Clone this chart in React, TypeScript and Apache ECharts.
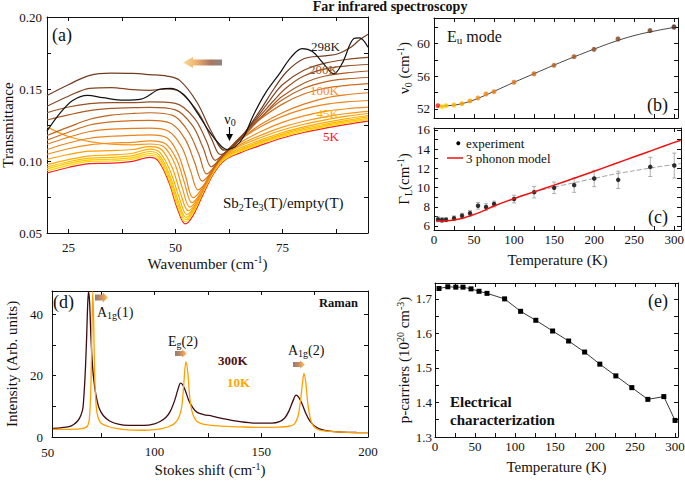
import React, { useEffect, useRef } from 'react';
import * as echarts from 'echarts';

const FONT = '"Liberation Serif", "Times New Roman", Times, serif';
const INK = '#111';

// ---------------- Panel (a): far-infrared transmittance ----------------
const firTemps = ['5K', '10K', '15K', '25K', '35K', '45K', '55K', '65K', '75K', '100K', '125K', '150K', '175K', '200K', '230K', '270K', '298K'];
const firColors = ['#ff1f1f', '#ffd800', '#ffc800', '#ffb900', '#ffab00', '#ff9f00', '#f99514', '#f28c14', '#ec8418', '#e47c1a', '#cf6e1c', '#bd641f', '#aa5a22', '#985024', '#864622', '#733c1f', '#111111'];
const fir5K = [[20, .0917], [25, .0955], [30, .0982], [35, .0985], [40, .0998], [44, .1025], [46, .1000], [48.5, .0850], [50.5, .0665], [52.3, .0563], [54, .0615], [56.5, .0770], [59, .0915], [61.5, .1005], [65, .1055], [70, .1110], [75, .1160], [80, .1198], [85, .1228], [90, .1254], [95, .1277]];
const fir10K = [[20, .0932], [25, .0970], [30, .0997], [35, .1000], [40, .1012], [44, .1040], [46, .1015], [48.5, .0868], [50.5, .0685], [52.3, .0578], [54, .0632], [56.5, .0785], [59, .0925], [61.5, .1012], [65, .1064], [70, .1120], [75, .1170], [80, .1208], [85, .1238], [90, .1264], [95, .1288]];
const fir15K = [[20, .0945], [25, .0983], [30, .1008], [35, .1012], [40, .1024], [44, .1052], [46.1, .1028], [48.6, .0884], [50.6, .0702], [52.4, .0593], [54.1, .0646], [56.6, .0797], [59.1, .0935], [61.5, .1018], [65, .1071], [70, .1128], [75, .1178], [80, .1217], [85, .1247], [90, .1273], [95, .1297]];
const fir25K = [[20, .0958], [25, .0995], [30, .1020], [35, .1025], [40, .1037], [44, .1066], [46.2, .1042], [48.7, .0900], [50.7, .0720], [52.5, .0608], [54.2, .0660], [56.7, .0808], [59.2, .0945], [61.5, .1024], [65, .1078], [70, .1136], [75, .1187], [80, .1226], [85, .1256], [90, .1282], [95, .1306]];
const fir35K = [[20, .0975], [25, .1010], [30, .1036], [35, .1042], [40, .1054], [44, .1082], [46.4, .1058], [48.9, .0922], [50.9, .0745], [52.65, .0628], [54.4, .0680], [56.9, .0825], [59.4, .0958], [61.6, .1032], [65, .1088], [70, .1147], [75, .1198], [80, .1237], [85, .1268], [90, .1294], [95, .1316]];
const fir45K = [[20, .1012], [25, .1045], [30, .1068], [35, .1072], [40, .1080], [44, .1100], [46.8, .1078], [49.3, .0950], [51.2, .0775], [53.0, .0655], [54.8, .0705], [57.3, .0845], [59.7, .0972], [61.7, .1040], [65, .1102], [70, .1163], [75, .1215], [80, .1255], [85, .1286], [90, .1311], [95, .1330]];
const fir55K = [[20, .1237], [25, .1170], [30, .1135], [35, .1117], [40, .1112], [44, .1118], [47.2, .1100], [49.8, .0985], [51.6, .0815], [53.35, .0680], [55.2, .0735], [57.7, .0872], [60, .0992], [62, .1052], [65, .1112], [70, .1180], [75, .1235], [80, .1276], [85, .1307], [90, .1330], [95, .1345]];
const fir65K = [[20, .1047], [25, .1085], [30, .1112], [35, .1125], [40, .1130], [44, .1140], [47.6, .1122], [50.3, .1010], [52.1, .0850], [53.85, .0710], [55.7, .0768], [58.2, .0905], [60.4, .1010], [62.3, .1065], [65, .1125], [70, .1205], [75, .1268], [80, .1313], [85, .1344], [90, .1363], [95, .1374]];
const fir75K = [[20, .1080], [25, .1125], [30, .1158], [35, .1172], [40, .1178], [44, .1182], [48, .1162], [50.6, .1050], [52.4, .0892], [54.1, .0745], [56, .0800], [58.5, .0935], [60.6, .1030], [62.4, .1078], [65, .1145], [70, .1240], [75, .1310], [80, .1360], [85, .1393], [90, .1410], [95, .1420]];
const fir100K = [[20, .1116], [25, .1165], [30, .1205], [35, .1222], [40, .1226], [44, .1228], [48.5, .1205], [51.5, .1095], [53.5, .0935], [55.3, .0800], [57.2, .0855], [59.5, .0975], [61.3, .1048], [63, .1098], [66, .1170], [70, .1255], [75, .1335], [80, .1395], [85, .1437], [90, .1460], [95, .1474]];
const fir125K = [[20, .1145], [25, .1200], [30, .1250], [35, .1272], [40, .1280], [44, .1282], [49, .1260], [52.3, .1150], [54.5, .0990], [56.3, .0860], [58.1, .0910], [60.2, .1005], [62, .1068], [64, .1125], [67, .1215], [70, .1295], [75, .1395], [80, .1465], [85, .1505], [90, .1525], [95, .1537]];
const fir150K = [[20, .1177], [25, .1235], [30, .1290], [35, .1318], [40, .1330], [44, .1335], [49.5, .1315], [53, .1205], [55.5, .1045], [57.3, .0910], [59, .0955], [61, .1035], [63, .1095], [65, .1150], [68, .1245], [71, .1330], [75, .1425], [80, .1505], [85, .1550], [90, .1570], [95, .1580]];
const fir175K = [[20, .1285], [25, .1320], [30, .1350], [35, .1365], [40, .1370], [44, .1372], [50, .1355], [54, .1245], [56.5, .1090], [58.4, .0960], [60, .0998], [62, .1062], [64, .1120], [66, .1175], [69, .1270], [72, .1365], [75, .1450], [80, .1540], [85, .1590], [90, .1612], [95, .1625]];
const fir200K = [[20, .1335], [25, .1375], [30, .1398], [35, .1405], [40, .1405], [44, .1410], [50, .1400], [54.5, .1295], [57.3, .1135], [59.3, .1005], [61, .1042], [63, .1102], [65, .1162], [67, .1220], [70, .1320], [73, .1420], [76, .1510], [80, .1590], [85, .1640], [90, .1660], [95, .1670]];
const fir230K = [[20, .1380], [25, .1450], [30, .1505], [35, .1510], [40, .1495], [44, .1490], [48, .1500], [51, .1480], [55.5, .1330], [58.5, .1150], [60.5, .1045], [62.3, .1072], [64, .1128], [66, .1190], [69, .1300], [72, .1420], [75, .1530], [80, .1630], [85, .1680], [90, .1705], [95, .1719]];
const fir270K = [[20, .1455], [25, .1530], [30, .1595], [35, .1610], [40, .1608], [44, .1600], [48, .1590], [51, .1560], [55, .1410], [58.5, .1200], [61.5, .1075], [63.3, .1097], [65, .1150], [67, .1230], [70, .1360], [73, .1500], [76, .1620], [80, .1710], [85, .1730], [88, .1745], [91, .1790], [93, .1840], [95, .1880]];
const fir298K = [[20, .1207], [23, .1330], [26, .1420], [29.5, .1456], [33, .1440], [38, .1423], [42, .1430], [46.5, .1500], [49, .1505], [52, .1460], [55, .1340], [58, .1200], [60.5, .1110], [62.1, .1080], [64, .1100], [66, .1170], [68.3, .1323], [71, .1470], [74.5, .1614], [77, .1720], [79.6, .1780], [82, .1760], [84.5, .1680], [87, .1605], [89, .1680], [91.7, .1850], [93, .1855], [95, .1790]];
const firCurves = [fir5K, fir10K, fir15K, fir25K, fir35K, fir45K, fir55K, fir65K, fir75K, fir100K, fir125K, fir150K, fir175K, fir200K, fir230K, fir270K, fir298K];
const firXTicks = [25, 37.5, 50, 62.5, 75, 87.5];
const firXLabels = [25, 50, 75];
const firYTicks = [0.05, 0.075, 0.1, 0.125, 0.15, 0.175, 0.2];
const firYLabels = [0.05, 0.1, 0.15, 0.2];

// ---------------- Panel (b): Eu mode frequency ----------------
const fitTemps = [5, 10, 15, 25, 35, 45, 55, 65, 75, 100, 125, 150, 175, 200, 230, 270, 300];
const nu0 = [52.40, 52.28, 52.40, 52.49, 52.65, 52.98, 53.34, 53.83, 54.11, 55.26, 56.30, 57.33, 58.38, 59.28, 60.54, 61.55, 62.0];
const nu0Err = [0.1, 0.1, 0.1, 0.1, 0.1, 0.1, 0.1, 0.12, 0.12, 0.15, 0.15, 0.15, 0.18, 0.2, 0.2, 0.22, 0.25];
const nu0Colors = ['#ff1f1f', '#ffd800', '#ffc800', '#ffb900', '#ffab00', '#ff9f00', '#f99514', '#f28c14', '#ec8418', '#e47c1a', '#cf6e1c', '#bd641f', '#aa5a22', '#985024', '#864622', '#733c1f', '#4a2416'];
const nu0FitT = [5, 10, 20, 30, 40, 50, 60, 75, 100, 125, 150, 175, 200, 225, 250, 275, 300];
const nu0Fit = [52.35, 52.36, 52.42, 52.55, 52.78, 53.1, 53.5, 54.15, 55.25, 56.3, 57.35, 58.35, 59.3, 60.2, 60.95, 61.5, 61.95];
const tTicks = [0, 25, 50, 75, 100, 125, 150, 175, 200, 225, 250, 275, 300];
const tLabels = [0, 50, 100, 150, 200, 250, 300];
const nuYTicks = [52, 54, 56, 58, 60, 62];
const nuYLabels = [52, 56, 60];

// ---------------- Panel (c): linewidth ----------------
const gammaL = [6.69, 6.62, 6.65, 6.80, 7.07, 7.32, 8.10, 7.97, 8.28, 8.80, 9.52, 9.97, 10.25, 10.94, 10.80, 12.15, 12.29];
const gammaErr = [0.25, 0.25, 0.2, 0.25, 0.25, 0.3, 0.35, 0.35, 0.3, 0.4, 0.6, 0.6, 0.75, 0.85, 0.9, 1.0, 1.3];
const modelT = [3, 10, 20, 30, 40, 50, 60, 75, 100, 125, 150, 175, 200, 225, 250, 275, 300, 308];
const modelG = [6.52, 6.53, 6.57, 6.7, 6.92, 7.2, 7.52, 8.08, 8.85, 9.55, 10.25, 10.97, 11.7, 12.45, 13.2, 13.95, 14.7, 14.93];
const trendT = [100, 125, 150, 175, 200, 225, 250, 275, 300, 308];
const trendG = [8.85, 9.55, 10.05, 10.5, 10.95, 11.4, 11.75, 12.1, 12.4, 12.5];
const gYTicks = [6, 7, 8, 9, 10, 11, 12, 13, 14, 15, 16];
const gYLabels = [6, 8, 10, 12, 14, 16];

// ---------------- Panel (d): Raman ----------------
const raman300Shift = [52.5, 56, 60, 62, 64, 65.5, 66.5, 67.5, 68.2, 68.7, 69.1, 69.6, 70.2, 70.8, 71.5, 72.5, 74, 76, 79, 83, 88, 95, 100, 103, 105.5, 107.5, 109.5, 111, 112.2, 113.2, 114.5, 116, 118, 120, 123, 127, 132, 140, 148, 155, 158.5, 161, 163, 165, 166.3, 167.5, 169, 171, 173, 175, 178, 182, 188, 195, 200];
const raman300Int = [2.8, 3.0, 3.4, 4.0, 5.2, 7.0, 9.5, 20, 32, 43, 47.4, 44, 33, 25, 19, 14, 9.5, 7, 5.2, 4.2, 3.8, 3.8, 4.3, 5.2, 6.5, 8.5, 12, 15.5, 17.5, 17, 15, 12, 9.5, 8, 7.3, 6.8, 6.0, 5.0, 4.5, 4.5, 5.0, 6.2, 8.5, 12, 13.6, 13, 11, 7.5, 5, 3.6, 2.5, 1.9, 1.6, 1.45, 1.4];
const raman10Shift = [52.5, 60, 66, 68.5, 69.5, 70.2, 70.7, 71.1, 71.5, 72, 72.7, 73.5, 75, 78, 82, 88, 95, 100, 104, 107, 109.5, 111.5, 112.8, 113.7, 114.7, 115.6, 116.5, 117.5, 119, 121, 124, 130, 140, 150, 158, 163, 165.5, 167.3, 168.5, 169.3, 170, 170.8, 171.8, 173, 174.5, 177, 182, 190, 200];
const raman10Int = [2.5, 2.5, 2.7, 3.5, 6, 16, 35, 47.4, 38, 20, 10, 6.5, 4.5, 3.5, 2.8, 2.3, 2.2, 2.4, 2.8, 3.5, 4.5, 6.5, 10, 17, 24.5, 21, 13, 8.5, 5.8, 4.6, 4.0, 3.6, 3.3, 3.1, 3.2, 3.5, 4.2, 7, 12.5, 17.5, 20.7, 18, 11, 6, 3.5, 2.3, 1.8, 1.5, 1.4];
const ramanXTicks = [75, 100, 125, 150, 175, 200];
const ramanXLabels = [100, 150, 200];
const ramanYTicks = [0, 10, 20, 30, 40];
const ramanYLabels = [0, 20, 40];

// ---------------- Panel (e): carriers ----------------
const carrierT = [5, 16, 26, 35, 45, 55, 65, 87, 107, 126, 147, 167, 187, 206, 226, 246, 266, 286, 300];
const carriers = [1.730, 1.735, 1.734, 1.734, 1.729, 1.722, 1.716, 1.700, 1.664, 1.638, 1.607, 1.578, 1.546, 1.511, 1.477, 1.443, 1.409, 1.417, 1.348];
const pYTicks = [1.3, 1.35, 1.4, 1.45, 1.5, 1.55, 1.6, 1.65, 1.7];
const pYLabels = [1.3, 1.4, 1.5, 1.6, 1.7];

// ---------------- helpers ----------------
const tickLabel = { fontFamily: FONT, fontSize: 13, color: INK };
const richBase = {
  n: { fontFamily: FONT, fontSize: 15, color: INK, lineHeight: 18 },
  s: { fontFamily: FONT, fontSize: 10, color: INK, lineHeight: 8, verticalAlign: 'bottom' },
  p: { fontFamily: FONT, fontSize: 10, color: INK, lineHeight: 8, verticalAlign: 'top' },
};

function xAxes(grid: number, min: number, max: number, ticks: number[], labels: number[], o: any) {
  const base: any = {
    type: 'value', gridIndex: grid, min, max, splitLine: { show: false },
    axisLine: { show: true, onZero: false, lineStyle: { color: INK, width: 1 } },
    axisTick: { show: true, inside: true, length: 4, customValues: ticks, lineStyle: { color: INK } },
  };
  return [
    {
      ...base, position: 'bottom',
      axisLabel: labels.length ? { show: true, customValues: labels, margin: o.margin, ...tickLabel, formatter: o.fmt } : { show: false },
      name: o.name || '', nameLocation: 'middle', nameGap: o.gap || 20,
      nameTextStyle: { fontFamily: FONT, fontSize: 15, color: INK, rich: richBase },
    },
    { ...base, position: 'top', axisLabel: { show: false } },
  ];
}
function yAxes(grid: number, min: number, max: number, ticks: number[], labels: number[], o: any) {
  const base: any = {
    type: 'value', gridIndex: grid, min, max, splitLine: { show: false },
    axisLine: { show: true, onZero: false, lineStyle: { color: INK, width: 1 } },
    axisTick: { show: true, inside: true, length: 4, customValues: ticks, lineStyle: { color: INK } },
  };
  return [
    {
      ...base, position: 'left',
      axisLabel: { show: true, customValues: labels, margin: o.margin, ...tickLabel, formatter: o.fmt },
      name: o.name, nameLocation: 'middle', nameGap: o.gap, nameRotate: 90,
      nameTextStyle: { fontFamily: FONT, fontSize: 15, color: INK, rich: richBase },
    },
    { ...base, position: 'right', axisLabel: { show: false } },
  ];
}

const errorBars = (cap: number, color: string) => (params: any, api: any) => {
  const x = api.value(0), y = api.value(1), e = api.value(2);
  const a = api.coord([x, y + e]);
  const b = api.coord([x, y - e]);
  const style = { stroke: color, lineWidth: 0.8 };
  return {
    type: 'group', children: [
      { type: 'line', shape: { x1: a[0], y1: a[1], x2: b[0], y2: b[1] }, style },
      { type: 'line', shape: { x1: a[0] - cap, y1: a[1], x2: a[0] + cap, y2: a[1] }, style },
      { type: 'line', shape: { x1: b[0] - cap, y1: b[1], x2: b[0] + cap, y2: b[1] }, style },
    ],
  };
};

function txt(x: number, y: number, text: string, size: number, o: any = {}) {
  const color = o.color || INK;
  return {
    type: 'text', x, y, z: 100, silent: true,
    style: {
      text, fontSize: size, fontFamily: FONT, fill: color, fontWeight: o.bold ? 'bold' : 'normal',
      align: o.align || 'left', verticalAlign: 'middle',
      rich: o.rich ? {
        n: { fontSize: size, fontFamily: FONT, fill: color, lineHeight: size + 3 },
        s: { fontSize: Math.round(size * 0.68), fontFamily: FONT, fill: color, lineHeight: 8, verticalAlign: 'bottom' },
      } : undefined,
    },
  };
}

function arrow(pts: number[][], stops: any[]) {
  return {
    type: 'polygon', z: 90, silent: true, shape: { points: pts },
    style: { fill: new echarts.graphic.LinearGradient(0, 0, 1, 0, stops) },
  };
}
const leftArrowStops = [
  { offset: 0, color: '#f7dc96' }, { offset: 0.35, color: '#eeb070' },
  { offset: 0.7, color: '#a87860' }, { offset: 1, color: '#8c8484' },
];
const rightArrowStops = [
  { offset: 0, color: '#8c7c7c' }, { offset: 0.45, color: '#c88a60' },
  { offset: 0.8, color: '#f2aa50' }, { offset: 1, color: '#f8d07a' },
];
function rArrow(x0: number, x1: number, cy: number, h: number) {
  const head = (x1 - x0) * 0.4;
  return arrow([[x0, cy - h * 0.3], [x1 - head, cy - h * 0.3], [x1 - head, cy - h * 0.5], [x1, cy], [x1 - head, cy + h * 0.5], [x1 - head, cy + h * 0.3], [x0, cy + h * 0.3]], rightArrowStops);
}

function buildOption() {
  const xAxis = [
    ...xAxes(0, 20, 95, firXTicks, firXLabels, { margin: 8, name: '{n|Wavenumber (cm}{p|-1}{n|)}', gap: 19 }),
    ...xAxes(1, 0, 305, tTicks, [], {}),
    ...xAxes(2, 0, 308.4, tTicks, tLabels, { margin: 3, name: 'Temperature (K)', gap: 22 }),
    ...xAxes(3, 52, 200, ramanXTicks, ramanXLabels, { margin: 8, name: '{n|Stokes shift (cm}{p|-1}{n|)}', gap: 24 }),
    ...xAxes(4, 0, 303.7, tTicks, tLabels, { margin: 3, name: 'Temperature (K)', gap: 22 }),
  ];
  const yAxis = [
    ...yAxes(0, 0.05, 0.2, firYTicks, firYLabels, { margin: 5, name: 'Transmittance', gap: 29, fmt: (v: number) => v.toFixed(2) }),
    ...yAxes(1, 50.9, 63.1, nuYTicks, nuYLabels, { margin: 4, name: '{n|ν}{s|0}{n| (cm}{p|-1}{n|)}', gap: 20 }),
    ...yAxes(2, 5.58, 16.2, gYTicks, gYLabels, { margin: 4, name: '{n|Γ}{s|L}{n|(cm}{p|-1}{n|)}', gap: 17 }),
    ...yAxes(3, 0, 47.5, ramanYTicks, ramanYLabels, { margin: 9, name: 'Intensity (Arb. units)', gap: 33 }),
    ...yAxes(4, 1.3, 1.746, pYTicks, pYLabels, { margin: 3, name: '{n|p-carriers (10}{p|20}{n| cm}{p|-3}{n|)}', gap: 19, fmt: (v: number) => v.toFixed(1) }),
  ];

  const series: any[] = [];
  firCurves.forEach((d, i) => {
    series.push({
      type: 'line', name: firTemps[i], xAxisIndex: 0, yAxisIndex: 0, data: d, smooth: 0.35,
      symbol: 'none', silent: true, lineStyle: { color: firColors[i], width: 1.2 }, z: 2,
    });
  });
  // (b)
  series.push({
    type: 'custom', xAxisIndex: 2, yAxisIndex: 2, renderItem: errorBars(1.5, '#aaa'), silent: true, z: 2,
    data: fitTemps.map((t, i) => [t, nu0[i], nu0Err[i]]), encode: { x: 0, y: 1 },
  });
  series.push({
    type: 'line', xAxisIndex: 2, yAxisIndex: 2, data: nu0FitT.map((t, i) => [t, nu0Fit[i]]), smooth: 0.4,
    symbol: 'none', silent: true, lineStyle: { color: '#333', width: 0.9 }, z: 3,
  });
  series.push({
    type: 'scatter', xAxisIndex: 2, yAxisIndex: 2, symbolSize: 5, silent: true, z: 4,
    data: fitTemps.map((t, i) => ({ value: [t, nu0[i]], itemStyle: { color: nu0Colors[i] } })),
  });
  // (c)
  series.push({
    type: 'line', xAxisIndex: 4, yAxisIndex: 4, data: trendT.map((t, i) => [t, trendG[i]]), smooth: 0.3,
    symbol: 'none', silent: true, lineStyle: { color: '#999', width: 0.9, type: [5, 2] }, z: 2,
  });
  series.push({
    type: 'custom', xAxisIndex: 4, yAxisIndex: 4, renderItem: errorBars(2, '#999'), silent: true, z: 2,
    data: fitTemps.map((t, i) => [t, gammaL[i], gammaErr[i]]), encode: { x: 0, y: 1 },
  });
  series.push({
    type: 'scatter', xAxisIndex: 4, yAxisIndex: 4, symbolSize: 4.5, silent: true, z: 3,
    itemStyle: { color: '#000' }, data: fitTemps.map((t, i) => [t, gammaL[i]]),
  });
  series.push({
    type: 'line', xAxisIndex: 4, yAxisIndex: 4, data: modelT.map((t, i) => [t, modelG[i]]), smooth: 0.4,
    symbol: 'none', silent: true, lineStyle: { color: '#f01010', width: 1.5 }, z: 4,
  });
  // (d)
  series.push({
    type: 'line', name: '300K', xAxisIndex: 6, yAxisIndex: 6, data: raman300Shift.map((w, i) => [w, raman300Int[i]]),
    smooth: 0.3, symbol: 'none', silent: true, lineStyle: { color: '#3e0c10', width: 1.3 }, z: 2,
  });
  series.push({
    type: 'line', name: '10K', xAxisIndex: 6, yAxisIndex: 6, data: raman10Shift.map((w, i) => [w, raman10Int[i]]),
    smooth: 0.3, symbol: 'none', silent: true, lineStyle: { color: '#ffa000', width: 1.3 }, z: 3,
  });
  // (e)
  series.push({
    type: 'line', xAxisIndex: 8, yAxisIndex: 8, data: carrierT.map((t, i) => [t, carriers[i]]),
    symbol: 'rect', symbolSize: 5, silent: true, itemStyle: { color: '#000' }, lineStyle: { color: '#222', width: 0.9 }, z: 3,
  });

  const sbRich = '{n|Sb}{s|2}{n|Te}{s|3}{n|(T)/empty(T)}';
  const graphic: any[] = [
    txt(390, 6, 'Far infrared spectroscopy', 14, { bold: true, align: 'center' }),
    // (a)
    txt(52, 34.5, '(a)', 18),
    txt(340, 46, '298K', 13, { align: 'right', color: '#222' }),
    txt(338, 69, '200K', 13, { align: 'right', color: '#9a5a30' }),
    txt(339, 90.5, '100K', 13, { align: 'right', color: '#ff8c1a' }),
    txt(339, 113, '45K', 13, { align: 'right', color: '#ffb000' }),
    txt(339, 136, '5K', 13, { align: 'right', color: '#ff1010' }),
    txt(230, 119, '{n|ν}{s|0}', 14, { align: 'center', rich: true }),
    { type: 'line', z: 100, silent: true, shape: { x1: 229.5, y1: 127, x2: 229.5, y2: 136 }, style: { stroke: '#000', lineWidth: 1.2 } },
    { type: 'polygon', z: 100, silent: true, shape: { points: [[226, 134], [233, 134], [229.5, 141]] }, style: { fill: '#000' } },
    txt(223, 203, sbRich, 15, { rich: true }),
    arrow([[183, 62.5], [193, 57], [193, 59.5], [222, 59.5], [222, 65.5], [193, 65.5], [193, 68]], leftArrowStops),
    // (b)
    txt(447, 36, '{n|E}{s|u}{n| mode}', 16, { rich: true }),
    txt(647, 104.5, '(b)', 18),
    // (c)
    txt(648, 216.5, '(c)', 18),
    { type: 'circle', z: 100, silent: true, shape: { cx: 458.3, cy: 143.3, r: 2 }, style: { fill: '#000' } },
    txt(466, 143.3, 'experiment', 13),
    { type: 'line', z: 100, silent: true, shape: { x1: 447, y1: 158, x2: 463, y2: 158 }, style: { stroke: '#f01010', lineWidth: 1.5 } },
    txt(466, 158, '3 phonon model', 13),
    // (d)
    txt(53, 301.5, '(d)', 18),
    txt(47.7, 452, '50', 13, { align: 'center' }),
    txt(358, 303, 'Raman', 12.5, { bold: true, align: 'right' }),
    txt(97, 312, '{n|A}{s|1g}{n|(1)}', 14, { rich: true }),
    txt(168, 341, '{n|E}{s|g}{n|(2)}', 14, { rich: true }),
    txt(288, 350, '{n|A}{s|1g}{n|(2)}', 14, { rich: true }),
    txt(218, 360, '300K', 13, { bold: true, color: '#4a1414' }),
    txt(227, 382, '10K', 13, { bold: true, color: '#ffa500' }),
    rArrow(95, 108, 297.5, 10),
    rArrow(175, 187, 353.5, 8),
    rArrow(293, 305, 364.5, 8),
    // (e)
    txt(648, 300.5, '(e)', 18),
    txt(450, 402, 'Electrical', 15, { bold: true }),
    txt(450, 420, 'characterization', 15, { bold: true }),
  ];

  const g = (left: number, top: number, width: number, height: number) => ({ left, top, width, height, containLabel: false, outerBoundsMode: 'none', show: false });
  return {
    animation: false,
    backgroundColor: '#fff',
    grid: [g(47, 17, 321, 216), g(434, 18, 244, 100), g(434, 128, 247, 102), g(52, 291, 316, 146), g(435, 283, 243, 154)],
    xAxis, yAxis, series, graphic,
  };
}

export default function App() {
  const ref = useRef<HTMLDivElement>(null);
  useEffect(() => {
    if (!ref.current) return;
    const chart = echarts.init(ref.current, null, { renderer: 'svg' });
    chart.setOption(buildOption() as any);
    return () => chart.dispose();
  }, []);
  return <div ref={ref} style={{ position: 'fixed', left: 0, top: 0, width: 685, height: 481, background: '#fff' }} />;
}
